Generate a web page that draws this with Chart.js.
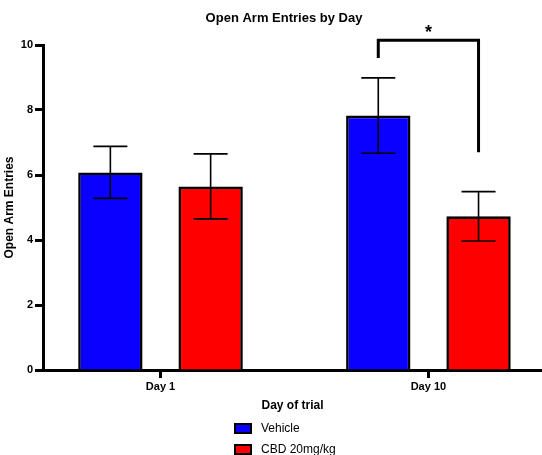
<!DOCTYPE html>
<html>
<head>
<meta charset="utf-8">
<script src="https://cdn.jsdelivr.net/npm/chart.js@4.4.1/dist/chart.umd.min.js"></script>
<style>
  html, body { margin: 0; padding: 0; background: #fff; }
  canvas { display: block; }
</style>
</head>
<body>
<canvas id="c" width="542" height="455"></canvas>
<script>
// ---- data ----
const categories = ['Day 1', 'Day 10'];
const seriesNames = ['Vehicle', 'CBD 20mg/kg'];
const vehicleMean = [6.08, 7.83];
const vehicleSem = [0.8, 1.16];
const cbdMean = [5.65, 4.73];
const cbdSem = [1.0, 0.76];
const yTicks = [0, 2, 4, 6, 8, 10];
// significance bracket (Day 10: Vehicle vs CBD), in y-units
const bracketTop = 10.15;
const bracketLeftEnd = 9.6;
const bracketRightEnd = 6.7;
const sigLabel = '*';

const FONT = "'Liberation Sans', Arial, Helvetica, sans-serif";
Chart.defaults.font.family = FONT;
Chart.defaults.color = '#000';

const errorBars = {
  id: 'errorBars',
  afterDatasetsDraw(chart) {
    const ctx = chart.ctx;
    const y = chart.scales.y;
    const sems = [vehicleSem, cbdSem];
    const means = [vehicleMean, cbdMean];
    ctx.save();
    ctx.strokeStyle = '#000';
    ctx.lineWidth = 1.6;
    chart.data.datasets.forEach((ds, di) => {
      const meta = chart.getDatasetMeta(di);
      meta.data.forEach((bar, i) => {
        const top = y.getPixelForValue(means[di][i] + sems[di][i]);
        const bot = y.getPixelForValue(means[di][i] - sems[di][i]);
        const x = bar.x, hw = 17;
        ctx.beginPath();
        ctx.moveTo(x, top); ctx.lineTo(x, bot);
        ctx.moveTo(x - hw, top); ctx.lineTo(x + hw, top);
        ctx.moveTo(x - hw, bot); ctx.lineTo(x + hw, bot);
        ctx.stroke();
      });
    });
    ctx.restore();
  },
  afterDraw(chart) {
    const ctx = chart.ctx;
    const y = chart.scales.y;
    ctx.save();
    // title
    ctx.fillStyle = '#000';
    ctx.font = 'bold 13px ' + FONT;
    ctx.textAlign = 'center';
    ctx.textBaseline = 'middle';
    ctx.fillText('Open Arm Entries by Day', 284, 18);
    // bracket
    const xl = chart.getDatasetMeta(0).data[1].x;
    const xr = chart.getDatasetMeta(1).data[1].x;
    const yt = y.getPixelForValue(bracketTop);
    ctx.strokeStyle = '#000';
    ctx.lineWidth = 3;
    ctx.lineJoin = 'miter';
    ctx.beginPath();
    ctx.moveTo(xl, y.getPixelForValue(bracketLeftEnd));
    ctx.lineTo(xl, yt);
    ctx.lineTo(xr, yt);
    ctx.lineTo(xr, y.getPixelForValue(bracketRightEnd));
    ctx.stroke();
    ctx.font = 'bold 18px ' + FONT;
    ctx.fillText(sigLabel, (xl + xr) / 2, yt - 7);
    // legend
    ctx.font = '12px ' + FONT;
    ctx.textAlign = 'left';
    chart.data.datasets.forEach((ds, i) => {
      const cy = 428.5 + i * 21;
      ctx.fillStyle = ds.backgroundColor;
      ctx.strokeStyle = '#000';
      ctx.lineWidth = 2;
      ctx.beginPath();
      ctx.rect(235, cy - 4.5, 16, 9);
      ctx.fill();
      ctx.stroke();
      ctx.fillStyle = '#000';
      ctx.fillText(ds.label, 261, cy);
    });
    ctx.restore();
  }
};

new Chart(document.getElementById('c'), {
  type: 'bar',
  data: {
    datasets: [
      {
        label: seriesNames[0],
        data: categories.map((c, i) => ({ x: i + 1, y: vehicleMean[i] })),
        backgroundColor: '#0a00ff',
        borderColor: '#000',
        borderWidth: 2.6
      },
      {
        label: seriesNames[1],
        data: categories.map((c, i) => ({ x: i + 1, y: cbdMean[i] })),
        backgroundColor: '#ff0000',
        borderColor: '#000',
        borderWidth: 2.6
      }
    ]
  },
  options: {
    responsive: false,
    animation: false,
    categoryPercentage: 0.7485,
    barPercentage: 0.642,
    layout: { padding: { top: 45, right: 0, bottom: 0, left: 0 } },
    plugins: { legend: { display: false }, title: { display: false }, tooltip: { enabled: false } },
    scales: {
      x: {
        type: 'linear',
        offset: false,
        min: 0.5614,
        max: 2.424,
        afterFit(s) { s.height = 85; },
        afterBuildTicks(s) { s.ticks = categories.map((c, i) => ({ value: i + 1 })); },
        border: { display: true, width: 3, color: '#000' },
        grid: { offset: false, drawOnChartArea: false, drawTicks: true, tickLength: 8, tickWidth: 3, tickColor: '#000' },
        ticks: {
          padding: 2,
          font: { size: 11, weight: 'bold' },
          color: '#000',
          callback: (v) => categories[v - 1] || ''
        },
        title: {
          display: true,
          text: 'Day of trial',
          font: { size: 12, weight: 'bold' },
          color: '#000',
          padding: { top: 4, bottom: 42 }
        }
      },
      y: {
        min: 0,
        max: 10,
        afterFit(s) { s.width = 43; },
        afterBuildTicks(s) { s.ticks = yTicks.map(v => ({ value: v })); },
        border: { display: true, width: 3, color: '#000' },
        grid: { drawOnChartArea: false, drawTicks: true, tickLength: 8, tickWidth: 3, tickColor: '#000' },
        ticks: { padding: 2, font: { size: 11, weight: 'bold' }, color: '#000' },
        title: {
          display: true,
          text: 'Open Arm Entries',
          font: { size: 12, weight: 'bold' },
          color: '#000',
          padding: { top: 2.3, bottom: 0 }
        }
      }
    }
  },
  plugins: [errorBars]
});
</script>
</body>
</html>
